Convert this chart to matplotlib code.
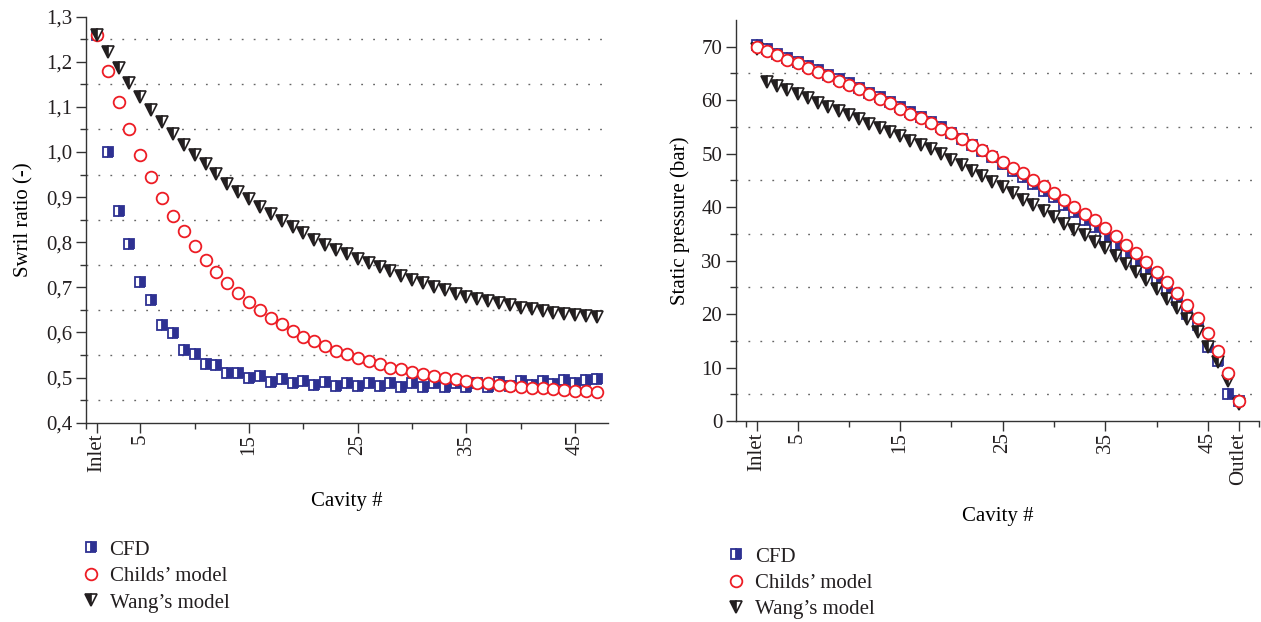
import numpy as np
import matplotlib
matplotlib.use('Agg')
from matplotlib import pyplot as plt
from matplotlib.ticker import FixedLocator

plt.rcParams['font.family'] = ['Liberation Serif', 'DejaVu Serif']
plt.rcParams['font.size'] = 15
plt.rcParams['text.color'] = '#231f20'

# ---- swirl ratio (left panel), cavities 1..47
cav_swirl = np.arange(1, 48)
swirl_cfd = [1.26, 1.000, 0.870, 0.795, 0.711, 0.672, 0.617, 0.598, 0.561, 0.553,
             0.530, 0.527, 0.510, 0.511, 0.498, 0.503, 0.490, 0.496, 0.487, 0.493,
             0.483, 0.490, 0.481, 0.489, 0.481, 0.489, 0.481, 0.488, 0.480, 0.488,
             0.480, 0.487, 0.480, 0.487, 0.479, 0.489, 0.479, 0.490, 0.482, 0.492,
             0.483, 0.493, 0.485, 0.494, 0.487, 0.494, 0.496]
swirl_childs = [1.26, 1.180, 1.111, 1.050, 0.994, 0.944, 0.899, 0.859, 0.824, 0.791,
                0.761, 0.734, 0.710, 0.688, 0.668, 0.649, 0.633, 0.618, 0.604, 0.591,
                0.580, 0.569, 0.560, 0.552, 0.544, 0.537, 0.530, 0.522, 0.518, 0.513,
                0.508, 0.503, 0.499, 0.496, 0.492, 0.489, 0.487, 0.483, 0.481, 0.480,
                0.478, 0.476, 0.474, 0.472, 0.471, 0.470, 0.468]
swirl_wang = [1.26, 1.221, 1.185, 1.153, 1.122, 1.093, 1.067, 1.040, 1.016, 0.993,
              0.973, 0.951, 0.930, 0.912, 0.895, 0.879, 0.862, 0.847, 0.833, 0.820,
              0.806, 0.794, 0.782, 0.773, 0.762, 0.753, 0.744, 0.736, 0.725, 0.716,
              0.709, 0.701, 0.694, 0.686, 0.679, 0.675, 0.670, 0.666, 0.661, 0.655,
              0.652, 0.647, 0.643, 0.641, 0.638, 0.636, 0.635]

# ---- static pressure (right panel), cavities 1..48
cav_press = np.arange(1, 49)
press_cfd = [70.3, 69.5, 68.7, 67.9, 67.2, 66.4, 65.6, 64.8, 63.9, 63.2,
             62.3, 61.4, 60.5, 59.7, 58.7, 57.8, 56.9, 56.0, 54.9, 53.9,
             52.7, 51.6, 50.5, 49.3, 48.1, 46.8, 45.7, 44.3, 43.1, 41.8,
             40.4, 39.0, 37.5, 36.2, 34.5, 32.9, 31.3, 29.7, 28.0, 26.4,
             24.5, 22.6, 20.1, 17.9, 13.9, 11.2, 5.0, 3.7]
press_childs = [70.0, 69.2, 68.4, 67.6, 66.9, 66.1, 65.3, 64.5, 63.6, 62.9,
                62.0, 61.1, 60.2, 59.4, 58.4, 57.5, 56.6, 55.8, 54.7, 53.8,
                52.7, 51.7, 50.7, 49.6, 48.5, 47.3, 46.3, 45.0, 43.9, 42.7,
                41.4, 40.1, 38.8, 37.6, 36.1, 34.6, 33.0, 31.5, 29.7, 27.9,
                25.9, 24.0, 21.7, 19.2, 16.4, 13.1, 9.0, 3.7]
press_wang = [69.6, 63.4, 62.6, 61.9, 61.1, 60.4, 59.5, 58.7, 57.9, 57.2,
              56.4, 55.6, 54.8, 54.1, 53.3, 52.4, 51.6, 50.8, 49.9, 48.9,
              47.9, 46.8, 45.8, 44.7, 43.7, 42.6, 41.4, 40.4, 39.3, 38.2,
              36.9, 35.8, 34.7, 33.5, 32.3, 30.9, 29.4, 27.9, 26.4, 24.6,
              22.9, 21.1, 19.0, 16.7, 13.9, 11.0, 7.5, 3.2]

# ticks and labels
swirl_yticks = [0.4, 0.5, 0.6, 0.7, 0.8, 0.9, 1.0, 1.1, 1.2, 1.3]
swirl_ylabels = ['0,4', '0,5', '0,6', '0,7', '0,8', '0,9', '1,0', '1,1', '1,2', '1,3']
swirl_grid = [0.45, 0.55, 0.65, 0.75, 0.85, 0.95, 1.05, 1.15, 1.25]
press_yticks = [0, 10, 20, 30, 40, 50, 60, 70]
press_grid = [5, 15, 25, 35, 45, 55, 65]
left_xticks = [1, 5, 15, 25, 35, 45]
left_xlabels = ['Inlet', '5', '15', '25', '35', '45']
left_xminor = [0, 10, 20, 30, 40]
right_xticks = [1, 5, 15, 25, 35, 45, 48]
right_xlabels = ['Inlet', '5', '15', '25', '35', '45', 'Outlet']
right_xminor = [0, 10, 20, 30, 40, 50]
legend_labels = ['CFD', 'Childs\u2019 model', 'Wang\u2019s model']

NAVY = '#2e3192'
RED = '#ed1c24'
DARK = '#231f20'
FS = 15

cfd_style = dict(ls='none', marker='s', ms=7.2, fillstyle='right', mfc=NAVY,
                 mfcalt='white', mec=NAVY, mew=1.3)
childs_style = dict(ls='none', marker='o', ms=8.4, mfc='white', mec=RED, mew=1.3)
wang_style = dict(ls='none', marker='v', ms=9.0, fillstyle='left', mfc=DARK,
                  mfcalt='white', mec=DARK, mew=1.2)

fig = plt.figure(figsize=(12.61, 6.22), dpi=100)
ax1 = fig.add_axes([0.0682, 0.3204, 0.4138, 0.6529])
ax2 = fig.add_axes([0.5837, 0.3232, 0.4148, 0.6447])


def style_axis(ax):
    for s in ['top', 'right']:
        ax.spines[s].set_visible(False)
    for s in ['left', 'bottom']:
        ax.spines[s].set_color('#333333')
        ax.spines[s].set_linewidth(1.0)
    ax.tick_params(which='major', direction='out', length=7, width=1.0,
                   color='#333333', labelcolor=DARK, labelsize=FS, pad=3)
    ax.tick_params(which='minor', direction='out', length=4, width=1.0, color='#333333')
    ax.tick_params(axis='x', which='major', labelrotation=90, pad=1)
    ax.grid(True, which='minor', axis='y', color='#666666', lw=1.0,
            linestyle=(0, (1.3, 7.3)))
    ax.set_axisbelow(True)


# left panel: swirl ratio
l1, = ax1.plot(cav_swirl, swirl_cfd, **cfd_style, zorder=3)
l2, = ax1.plot(cav_swirl, swirl_childs, **childs_style, zorder=4)
l3, = ax1.plot(cav_swirl, swirl_wang, **wang_style, zorder=5)
ax1.set_xlim(0, 48)
ax1.set_ylim(0.4, 1.3)
ax1.set_yticks(swirl_yticks)
ax1.set_yticklabels(swirl_ylabels)
ax1.yaxis.set_minor_locator(FixedLocator(swirl_grid))
ax1.set_xticks(left_xticks)
ax1.set_xticklabels(left_xlabels)
ax1.xaxis.set_minor_locator(FixedLocator(left_xminor))
style_axis(ax1)
ax1.set_xlabel('Cavity #', fontsize=FS, labelpad=14)
ax1.set_ylabel('Swril ratio (-)', fontsize=FS, labelpad=9)
ax1.legend([l1, l2, l3], legend_labels, loc='upper left', bbox_to_anchor=(0.058, 0.145),
           bbox_transform=fig.transFigure, frameon=False, handlelength=0.9,
           handletextpad=0.45, labelspacing=0.33, fontsize=FS, borderaxespad=0)

# right panel: static pressure
r1, = ax2.plot(cav_press, press_cfd, **cfd_style, zorder=3)
r3, = ax2.plot(cav_press, press_wang, **wang_style, zorder=4)
r2, = ax2.plot(cav_press, press_childs, **childs_style, zorder=5)
ax2.set_xlim(-1, 50)
ax2.set_ylim(0, 75)
ax2.set_yticks(press_yticks)
ax2.yaxis.set_minor_locator(FixedLocator(press_grid))
ax2.set_xticks(right_xticks)
ax2.set_xticklabels(right_xlabels)
ax2.xaxis.set_minor_locator(FixedLocator(right_xminor))
style_axis(ax2)
ax2.set_xlabel('Cavity #', fontsize=FS, labelpad=16)
ax2.set_ylabel('Static pressure (bar)', fontsize=FS, labelpad=8)
ax2.legend([r1, r2, r3], legend_labels, loc='upper left', bbox_to_anchor=(0.5697, 0.134),
           bbox_transform=fig.transFigure, frameon=False, handlelength=0.9,
           handletextpad=0.45, labelspacing=0.33, fontsize=FS, borderaxespad=0)

fig.savefig('out.png', dpi=100)
